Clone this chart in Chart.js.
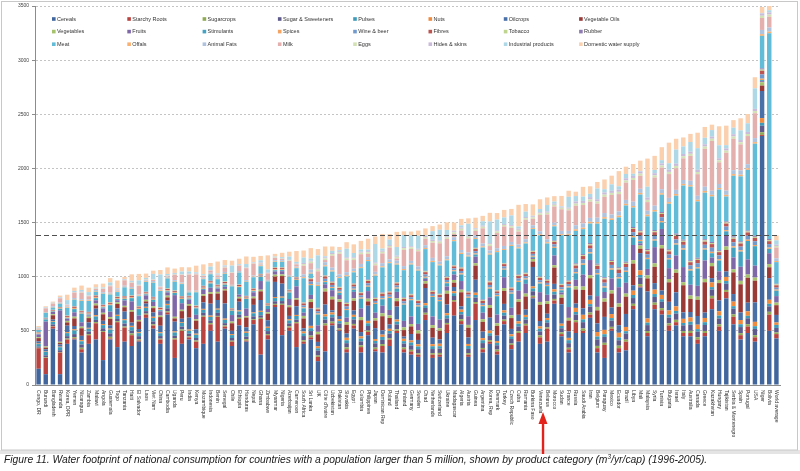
<!DOCTYPE html>
<html><head><meta charset="utf-8">
<script src="https://cdn.jsdelivr.net/npm/chart.js@4.4.0/dist/chart.umd.min.js"></script>
<style>
html,body{margin:0;padding:0;background:#fff;}
#wrap{position:relative;width:800px;height:454px;}
#cap{position:absolute;left:4px;top:453px;font:italic 10.3px "Liberation Sans",Arial,sans-serif;color:#1a1a1a;white-space:nowrap;line-height:14px;}
#cap sup{font-size:6.5px;line-height:0;}
</style></head><body>
<div id="wrap"><canvas id="c"></canvas></div>
<div id="cap">Figure 11. Water footprint of national consumption for countries with a population larger than 5 million, shown by product category (m<sup>3</sup>/yr/cap) (1996-2005).</div>
<script>
const countries = ["Congo, DR","Burundi","Bangladesh","Rwanda","Korea, DPR","Yemen","Nicaragua","Zambia","Malawi","Angola",
"Guatemala","Togo","Tanzania","Haiti","El Salvador","Laos","Viet Nam","China","Cambodia","Uganda",
"Peru","India","Kenya","Mozambique","Indonesia","Benin","Senegal","Chile","Ethiopia","Honduras",
"Nepal","Ghana","Zimbabwe","Myanmar","Nigeria","Azerbaijan","Cameroon","South Africa","Sri Lanka","UK",
"Côte d'Ivoire","Uzbekistan","Pakistan","Slovakia","Egypt","Colombia","Philippines","Japan","Dominican Rep","Poland",
"Thailand","Finland","Germany","Sweden","Chad","Netherlands","Switzerland","Ukraine","Madagascar","Algeria",
"Austria","Guinea","Argentina","Korea, Rep","Denmark","Turkey","Czech Republic","Cuba","Romania","Burkina Faso",
"Venezuela","Belarus","Morocco","Sudan","France","Russia","Saudi Arabia","Iran","Belgium","Paraguay",
"Mexico","Ecuador","Brazil","Libya","Mali","Malaysia","Syria","Tunisia","Bulgaria","Israel",
"Italy","Australia","Canada","Greece","Kazakhstan","Hungary","Tajikistan","Serbia & Montenegro","Spain","Portugal",
"USA","Niger","Bolivia","World average"];

const categories = ["Cereals","Starchy Roots","Sugarcrops","Sugar & Sweeteners","Pulses","Nuts","Oilcrops","Vegetable Oils",
"Vegetables","Fruits","Stimulants","Spices","Wine & beer","Fibres","Tobacco","Rubber",
"Meat","Offals","Animal Fats","Milk","Eggs","Hides & skins","Industrial products","Domestic water supply"];

const yTicks = [0,500,1000,1500,2000,2500,3000,3500];
const worldAverage = 1385;
const highlighted = "Venezuela";

const cereals = [150,100,520,100,380,420,300,380,420,230,
420,350,400,360,400,620,520,380,650,250,
380,420,340,380,500,400,520,360,550,400,
560,280,420,720,460,500,350,380,420,220,
310,550,500,300,520,300,460,310,300,360,
480,300,280,260,600,250,260,480,640,560,
260,600,300,380,280,560,330,400,480,800,
380,400,750,450,300,480,480,620,300,250,
500,300,320,700,900,450,700,650,500,550,
450,450,380,450,700,500,800,560,420,480,
400,2300,500,430];
const starchyRoots = [190,150,20,200,40,10,30,80,150,260,
10,230,130,100,10,30,30,40,20,170,
120,20,60,250,60,230,20,40,60,10,
40,330,40,20,280,30,220,20,20,40,
240,20,10,30,30,50,30,20,60,60,
20,30,30,20,50,30,20,80,130,30,
20,150,30,20,30,30,40,80,70,10,
60,120,30,20,30,100,20,30,40,120,
20,40,80,30,10,30,40,40,50,30,
30,30,40,30,100,40,60,70,40,60,
40,10,150,40];
const sugarcrops = [4,6,5,5,
9,12,14,10,11,8,15,9,10,16,12, 9,11,8,10,12,13,9,11,10,12,8, 10,9,12,14,8,11,10,9,10,12,11,
14,16,12,18,15,13,17,14,16,12, 15,18,13,14,16,15,12,17,14,16, 13,15,18,14,16,12,15,17,14,13, 16,15,14,18,12,15,16,14,
18,22,19,21,20,17,23,19,20,22, 18,21,20,19,22,18,20,21,19,23, 20,18,22,19,21,20,24,26,
15];
const sugarSweeteners = [12,18,14,16,
22,28,30,24,20,26,32,21,27,25,29, 23,26,24,28,22,27,25,23,26,24,28, 21,25,27,23,26,22,28,24,25,27,23,
38,42,45,36,40,44,39,41,37,43, 40,38,42,45,36,41,39,44,38,40, 42,37,43,39,41,45,38,40,36,42, 44,39,41,37,43,40,38,42,
52,58,55,60,54,57,50,56,53,59, 55,52,58,54,57,53,56,51,55,58, 54,57,52,56,55,58,60,50,
42];
const pulses = [22,32,24,28,
28,34,30,26,32,29,35,27,31,33,28, 30,32,26,29,31,34,27,30,28,33,29, 31,27,30,34,28,32,29,30,31,27,33,
24,26,22,28,25,23,27,24,26,25, 22,28,24,26,23,27,25,24,26,22, 28,25,23,27,24,26,25,22,28,24, 26,23,27,25,24,26,22,28,
24,26,23,27,25,24,26,22,28,25, 23,27,24,26,25,22,28,24,26,23, 27,25,24,26,23,25,27,24,
28];
const nuts = [5,4,6,5,
9,11,10,8,12,10,9,11,10,12,8, 10,11,9,12,10,8,11,10,9,12,10, 11,9,10,12,8,10,11,9,10,12,10,
18,22,19,21,20,17,23,19,20,22, 18,21,20,19,22,18,20,21,19,23, 20,18,22,19,21,20,24,17,21,19, 22,20,18,21,19,23,20,21,
38,42,39,41,40,37,43,39,40,42, 38,41,40,39,42,38,40,41,39,43, 40,38,42,39,41,40,44,37,
22];
const oilcrops = [20,20,15,20,60,30,40,50,60,30,
30,60,70,30,30,30,40,60,30,90,
30,110,40,60,110,80,140,30,80,40,
70,100,60,140,120,30,80,30,160,40,
90,20,30,40,40,40,140,100,40,40,
120,20,60,40,140,60,40,80,40,30,
60,120,60,120,50,60,50,60,50,180,
50,40,50,180,60,40,60,40,80,120,
60,70,120,50,160,250,60,40,80,130,
60,50,80,50,40,100,50,70,70,80,
180,250,200,70];
const vegetableOils = [30,15,40,15,30,70,70,40,30,60,
60,40,40,100,70,20,40,80,30,30,
70,110,80,60,90,60,120,70,30,90,
60,80,60,50,70,80,60,90,60,70,
120,100,130,80,90,110,40,70,130,60,
50,60,70,60,40,90,80,100,40,130,
90,130,90,90,90,120,100,120,120,50,
150,90,150,60,100,130,170,160,120,140,
130,170,160,200,40,120,150,390,180,180,
250,120,150,280,110,160,200,200,260,230,
200,50,100,90];
const vegetables = [9,11,10,10,
14,16,15,13,17,14,16,15,13,16,14, 15,17,14,16,15,13,16,14,15,17,15, 14,16,15,13,16,15,14,17,15,16,14,
24,26,23,27,25,24,26,22,28,25, 23,27,24,26,25,22,28,24,26,23, 27,25,24,26,23,25,27,24,26,25, 23,27,24,26,25,22,28,25,
29,31,28,32,30,29,31,28,32,30, 28,32,29,31,30,28,32,29,31,30, 29,31,28,32,30,29,31,30,
24];
const fruits = [25,230,20,290,20,40,40,10,30,40,
50,20,50,80,40,40,40,40,30,200,
60,40,40,40,40,30,20,60,20,70,
40,80,30,30,30,60,110,30,40,60,
40,60,40,40,60,80,70,50,70,50,
60,60,70,60,20,80,80,40,50,80,
80,60,60,70,80,100,70,80,90,10,
90,60,90,20,100,60,110,140,100,60,
110,150,100,140,20,60,150,150,100,130,
140,100,100,170,50,80,100,110,130,140,
110,10,100,60];
const stimulants = [5,20,5,15,5,30,80,10,20,10,
60,10,15,30,60,10,20,10,10,20,
40,10,60,10,40,10,20,40,70,90,
10,40,30,10,10,60,60,40,90,100,
20,20,20,70,20,90,40,80,60,110,
30,150,150,160,10,180,170,30,30,60,
170,20,60,80,170,70,130,80,40,10,
80,80,70,20,180,60,90,60,200,40,
80,80,100,70,20,90,60,60,80,100,
160,130,160,100,40,100,40,90,140,170,
180,10,40,50];
const spices = [5,4,6,5,
7,9,8,7,9,8,8,7,9,8,8, 7,9,8,8,7,9,8,7,9,8,8, 9,7,8,8,9,7,8,9,8,7,8,
9,11,10,10,9,11,10,9,11,10, 10,9,11,10,9,10,11,10,9,11, 10,9,11,10,10,9,11,10,9,10, 11,10,9,10,11,10,9,11,
11,13,12,12,11,13,12,11,13,12, 12,11,13,12,11,12,13,12,11,13, 12,11,13,12,12,11,13,12,
10];
const wineBeer = [2,3,1,2,
3,2,4,3,3,2,4,3,2,3,4, 3,2,3,4,3,2,3,4,3,2,3, 4,3,2,3,3,4,2,3,3,4,3,
18,22,19,21,20,17,23,19,20,22, 18,21,20,19,22,18,20,21,19,23, 20,18,22,19,21,20,24,17,21,19, 22,20,18,21,19,23,20,21,
33,37,34,36,35,32,38,34,35,37, 33,36,35,34,37,33,35,36,34,38, 35,33,37,34,36,35,39,32,
18];
const fibres = [5,4,6,5,
9,11,10,9,11,10,10,9,11,10,10, 9,11,10,10,9,11,10,9,11,10,10, 11,9,10,10,11,9,10,11,10,9,10,
18,22,19,21,20,17,23,19,20,22, 18,21,20,19,22,18,20,21,19,23, 20,18,22,19,21,20,24,17,21,19, 22,20,18,21,19,23,20,21,
28,32,29,31,30,27,33,29,30,32, 28,31,30,29,32,28,30,31,29,33, 30,28,32,29,31,30,34,27,
22];
const tobacco = [3,3,2,4,
4,3,5,4,4,3,5,4,3,4,5, 4,3,4,5,4,3,4,5,4,3,4, 5,4,3,4,4,5,3,4,4,5,4,
8,7,9,8,8,7,9,8,7,8, 9,8,7,8,9,8,7,8,9,8, 7,8,9,8,7,8,9,8,7,8, 9,8,7,8,9,8,7,8,
10,9,11,10,10,9,11,10,9,10, 11,10,9,10,11,10,9,10,11,10, 9,10,11,10,9,10,11,10,
8];
const rubber = [1,1,1,1,
2,2,1,2,2,3,2,2,1,2,2, 2,3,2,2,1,2,2,3,2,2,2, 1,2,2,3,2,2,2,1,2,2,3,
5,4,6,5,5,4,6,5,4,5, 6,5,4,5,6,5,4,5,6,5, 4,5,6,5,4,5,6,5,4,5, 6,5,4,5,6,5,4,5,
10,9,11,10,10,9,11,10,9,10, 11,10,9,10,11,10,9,10,11,10, 9,10,11,10,9,10,11,10,
6];
const meat = [20,45,20,30,70,60,90,100,30,100,
70,40,80,60,90,90,130,150,90,80,
110,30,120,60,60,50,70,200,110,130,
100,70,200,50,50,120,80,220,40,200,
80,90,80,240,100,220,170,200,230,260,
160,250,270,270,200,260,260,150,220,120,
320,80,480,240,350,120,380,240,270,200,
380,330,130,450,420,300,230,180,370,540,
370,460,520,180,330,300,170,160,420,350,
500,680,520,430,420,560,230,560,600,560,
850,300,1900,200];
const offals = [4,3,5,4,
6,5,7,6,6,5,7,6,5,6,7, 6,5,6,7,6,5,6,7,6,5,6, 7,6,5,6,6,7,5,6,6,7,6,
10,9,11,10,10,9,11,10,9,10, 11,10,9,10,11,10,9,10,11,10, 9,10,11,10,9,10,11,10,9,10, 11,10,9,10,11,10,9,10,
15,14,16,15,15,14,16,15,14,15, 16,15,14,15,16,15,14,15,16,15, 14,15,16,15,14,15,16,15,
10];
const animalFats = [6,5,7,6,
8,10,9,8,10,9,9,8,10,9,9, 8,10,9,9,8,10,9,8,10,9,9, 10,8,9,9,10,8,9,10,9,8,9,
26,28,25,29,27,26,28,24,30,27, 25,29,26,28,27,24,30,26,28,25, 29,27,26,28,25,27,29,26,28,27, 25,29,26,28,27,24,30,27,
37,39,36,40,38,37,39,36,40,38, 36,40,37,39,38,36,40,37,39,38, 37,39,36,40,38,37,39,38,
25];
const milk = [5,34,25,40,10,50,60,30,10,30,
60,10,50,40,80,5,10,20,5,50,
70,150,150,15,20,20,40,110,50,110,
110,10,60,20,10,130,20,80,60,100,
20,110,190,110,80,90,30,60,90,110,
20,150,110,140,60,140,170,160,30,180,
130,40,140,40,140,180,130,120,180,60,
150,230,150,200,190,180,170,150,130,150,
180,160,160,200,120,80,260,200,220,200,
200,230,200,350,460,200,350,290,240,260,
230,110,100,100];
const eggs = [2,2,3,1,
4,3,5,4,4,3,5,4,3,4,5, 4,3,4,5,4,3,4,5,4,3,4, 5,4,3,4,4,5,3,4,4,5,4,
15,14,16,15,15,14,16,15,14,15, 16,15,14,15,16,15,14,15,16,15, 14,15,16,15,14,15,16,15,14,15, 16,15,14,15,16,15,14,15,
20,19,21,20,20,19,21,20,19,20, 21,20,19,20,21,20,19,20,21,20, 19,20,21,20,19,20,21,20,
14];
const hidesSkins = [2,2,1,3,
4,3,5,4,4,3,5,4,3,4,5, 4,3,4,5,4,3,4,5,4,3,4, 5,4,3,4,4,5,3,4,4,5,4,
10,9,11,10,10,9,11,10,9,10, 11,10,9,10,11,10,9,10,11,10, 9,10,11,10,9,10,11,10,9,10, 11,10,9,10,11,10,9,10,
20,19,21,20,20,19,21,20,19,20, 21,20,19,20,21,20,19,20,21,20, 19,20,21,20,19,20,21,20,
12];
const industrialProducts = [5,5,4,6,40,10,15,30,5,8,
25,5,5,10,40,10,50,110,10,9,
25,20,10,8,30,10,10,60,7,30,
5,20,30,5,10,30,15,50,20,120,
10,20,10,80,40,20,15,170,20,50,
80,110,100,120,5,80,100,60,5,20,
110,5,40,200,100,60,90,20,50,5,
30,60,20,5,100,50,40,30,100,30,
60,30,40,20,5,100,30,30,60,130,
70,90,200,60,60,120,30,60,90,80,
190,5,20,40];
const domesticWater = [12,10,10,15,50,30,40,41,30,35,
40,70,20,60,60,40,30,41,61,40,
40,39,61,90,34,110,50,45,50,70,
50,40,130,25,40,45,100,65,96,58,
90,40,30,60,80,80,100,69,135,50,
140,34,36,48,65,46,48,70,75,60,
50,95,50,80,60,70,60,200,70,105,
90,70,50,95,56,40,90,70,60,90,
80,140,67,90,95,260,130,120,190,100,
83,75,143,100,50,175,180,70,111,85,
102,55,50,45];

const series = [cereals,starchyRoots,sugarcrops,sugarSweeteners,pulses,nuts,oilcrops,vegetableOils,
vegetables,fruits,stimulants,spices,wineBeer,fibres,tobacco,rubber,
meat,offals,animalFats,milk,eggs,hidesSkins,industrialProducts,domesticWater];

const colors = ["#41669E","#B8433F","#8FAA52","#5E5A8C","#3E9BBA","#F08A3C","#4A70A8","#9A3A36",
"#A6C26C","#7E68A8","#45A3C2","#F4A462","#7199CC","#BC5551","#BFD48E","#8F7BB3",
"#62BCD8","#F9B071","#AFC3DE","#E4B0AE","#D3E2B5","#C8BCDA","#AFD8E6","#FAD0AE"];

const FONT = '"Liberation Sans", Arial, sans-serif';

const framePlugin = {
  id:'frame',
  beforeDraw(chart){
    const c = chart.ctx;
    c.save();
    c.fillStyle='#fff'; c.fillRect(0,0,chart.width,chart.height);
    c.fillStyle='#E4E4E4'; c.fillRect(0,450,chart.width,4);
    c.strokeStyle='#C8C8C8'; c.lineWidth=1;
    c.strokeRect(1.5,1.5,796,448.5);
    c.restore();
  }
};

const xLabelPlugin = {
  id:'xlabels',
  afterDraw(chart){
    const c = chart.ctx, xs = chart.scales.x;
    c.save();
    c.font = '5px ' + FONT;
    c.fillStyle = '#333';
    c.textAlign = 'left'; c.textBaseline = 'middle';
    countries.forEach((name,i)=>{
      const x = xs.getPixelForValue(i);
      c.save();
      c.translate(x, xs.top + 5);
      c.rotate(Math.PI/2);
      c.fillText(name, 0, 0);
      c.restore();
    });
    c.restore();
  }
};

const avgPlugin = {
  id:'avg',
  afterDatasetsDraw(chart){
    const c = chart.ctx, ys = chart.scales.y, a = chart.chartArea;
    const y = Math.round(ys.getPixelForValue(worldAverage)) + 0.5;
    c.save();
    c.strokeStyle = '#505050'; c.lineWidth = 1; c.setLineDash([5,3]);
    c.beginPath(); c.moveTo(a.left+1, y); c.lineTo(a.right, y); c.stroke();
    c.restore();
  }
};

const legendPlugin = {
  id:'customLegend',
  afterDraw(chart){
    const c = chart.ctx;
    c.save();
    c.font = '5.5px ' + FONT;
    c.textBaseline = 'middle'; c.textAlign = 'left';
    categories.forEach((name,k)=>{
      const col = k % 8, row = Math.floor(k/8);
      const x = 52 + col*75.3, y = 19 + row*12.6;
      c.fillStyle = colors[k];
      c.fillRect(x, y-1.8, 3.6, 3.6);
      c.fillStyle = '#333';
      c.fillText(name, x+5, y+0.3);
    });
    c.restore();
  }
};

const arrowPlugin = {
  id:'arrow',
  afterDraw(chart){
    const c = chart.ctx, xs = chart.scales.x;
    const x = xs.getPixelForValue(countries.indexOf(highlighted)) + 3;
    c.save();
    c.fillStyle = '#E3231B'; c.strokeStyle = '#E3231B';
    c.lineWidth = 2.4;
    c.beginPath(); c.moveTo(x, 454); c.lineTo(x, 422); c.stroke();
    c.beginPath(); c.moveTo(x, 412); c.lineTo(x-4.5, 424); c.lineTo(x+4.5, 424); c.closePath(); c.fill();
    c.restore();
  }
};

new Chart(document.getElementById('c'), {
  type:'bar',
  data:{
    labels: countries,
    datasets: categories.map((name,k)=>({
      label:name, data:series[k], backgroundColor:colors[k],
      borderWidth:0, stack:'s', barPercentage:0.62, categoryPercentage:1
    }))
  },
  options:{
    responsive:true, maintainAspectRatio:false, animation:false,
    layout:{padding:{left:0,right:20,top:4,bottom:0}},
    plugins:{legend:{display:false}, tooltip:{enabled:false}},
    scales:{
      x:{
        stacked:true,
        grid:{display:false},
        border:{display:true,color:'#8C8C8C'},
        ticks:{display:false},
        afterFit(s){ s.height = 69; }
      },
      y:{
        stacked:true, min:0, max:3500,
        afterBuildTicks(s){ s.ticks = yTicks.map(v=>({value:v})); },
        ticks:{font:{size:5,family:FONT}, color:'#404040', padding:3, callback:(v)=>String(v)},
        grid:{color:'#C4C4C4', tickLength:3, tickColor:'#8C8C8C'},
        border:{display:true, color:'#8C8C8C', dash:[2,2]},
        afterFit(s){ s.width = 35; }
      }
    }
  },
  plugins:[framePlugin, avgPlugin, xLabelPlugin, legendPlugin, arrowPlugin]
});
</script>
</body></html>
